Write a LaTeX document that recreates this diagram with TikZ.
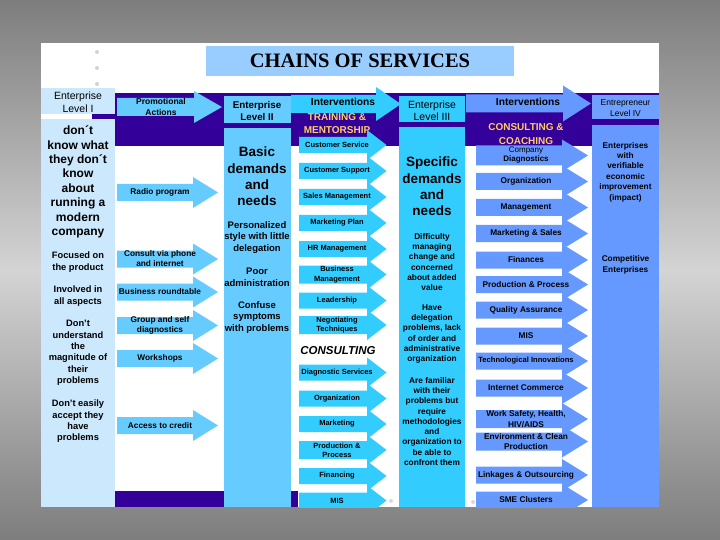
\documentclass[tikz,border=0pt]{standalone}
\usepackage{fontspec}
\setmainfont{Liberation Sans}
\newfontfamily\titlefont{Liberation Serif}
\definecolor{cPur}{HTML}{330099}
\definecolor{cLone}{HTML}{CCE8FC}
\definecolor{cSky}{HTML}{66CCFF}
\definecolor{cCyan}{HTML}{33CCFF}
\definecolor{cPeri}{HTML}{6699FF}
\definecolor{cPeriH}{HTML}{70A0FF}
\definecolor{cTitle}{HTML}{99CCFF}
\definecolor{cGold}{HTML}{FFCC66}
\definecolor{bgD}{RGB}{125,125,125}
\definecolor{bgL}{RGB}{212,212,212}
\newcommand\fs[2]{\fontsize{#1}{#2}\selectfont}
\newcommand\arw[7]{\fill[#7] (#1,#4-#5) -- (#2,#4-#5) -- (#2,#4-#6) -- (#3,#4) -- (#2,#4+#6) -- (#2,#4+#5) -- (#1,#4+#5) -- cycle;}
\newcommand\atwo[3]{\arw{117}{193}{218}{#1}{8.5}{15.5}{cSky}\node[tx,font=\bfseries\fs{8.3}{10}] (#2) at (160,#1) {#3};}
\newcommand\afour[4][8]{\arw{299}{367}{386.5}{#2}{#1}{15}{cCyan}\node[tx,font=\bfseries\fs{7.5}{9.3}] (#3) at (337,#2) {#4};}
\newcommand\asix[4][8.5]{\arw{476}{562}{588}{#2}{#1}{16}{cPeri}\node[tx,font=\bfseries\fs{8.3}{10.5}] (#3) at (526,#2) {#4};}
\begin{document}
\begin{tikzpicture}[x=1pt,y=-1pt,tx/.style={align=center,inner sep=0pt,text=black}]
\useasboundingbox (0,0) rectangle (720,540);
\shade[top color=bgD,bottom color=bgD,middle color=bgL] (0,0) rectangle (720,540);
\fill[white] (41,43) rectangle (659,507);
\foreach \yy in {52,68,84} \fill[gray!35] (97,\yy) circle[radius=2pt];
\fill[gray!30] (391,501) circle[radius=2pt];
\fill[gray!30] (473,502) circle[radius=2pt];
\node[fill=cTitle,minimum width=308pt,minimum height=30pt,inner sep=0pt,font=\titlefont\bfseries\fs{20.5}{23}] (title) at (360,61) {CHAINS OF SERVICES};
% purple bands
\fill[cPur] (92,93) rectangle (659,146);
\fill[cPur] (115,491) rectangle (298,507);
% columns
\fill[cLone] (41,88) rectangle (115,114);
\fill[cLone] (41,119) rectangle (115,507);
\fill[cSky] (224,96) rectangle (290.5,123);
\fill[cSky] (224,128) rectangle (290.5,507);
\fill[cCyan] (399,96) rectangle (465,122);
\fill[cCyan] (399,127) rectangle (465,507);
\fill[cPeriH] (592,95) rectangle (659,119);
\fill[cPeri] (592,125) rectangle (659,507);
% gold texts
\node[tx,text=cGold,font=\bfseries\fs{10}{13}] (train) at (337,123.5) {TRAINING \&\\MENTORSHIP};
\node[tx,text=cGold,font=\bfseries\fs{10}{13.5}] (consc) at (526,134) {CONSULTING \&\\COACHING};
\begin{scope}
\clip (41,43) rectangle (659,507);
% big arrows
\arw{117}{194}{222}{107}{9}{16}{cSky}
\node[tx,font=\bfseries\fs{8.5}{11}] (promo) at (161,106.5) {Promotional\\Actions};
\arw{291}{376}{401}{104}{9}{17}{cCyan}
\node[tx,font=\bfseries\fs{10.2}{12}] (intA) at (343,102) {Interventions};
\arw{466}{563}{591}{103.5}{9}{18}{cPeri}
\node[tx,font=\bfseries\fs{10.2}{12}] (intB) at (528,102) {Interventions};
% column 2 arrows
\atwo{192.5}{radio}{Radio program}
\atwo{259}{phone}{Consult via phone\\and internet}
\atwo{292}{round}{Business roundtable}
\atwo{325.5}{group}{Group and self\\diagnostics}
\atwo{358.5}{works}{Workshops}
\atwo{425.5}{credit}{Access to credit}
% column 4 arrows
\afour{145}{cserv}{Customer Service}
\afour{171}{csupp}{Customer Support}
\afour{197}{sales}{Sales Management}
\afour{223}{mplan}{Marketing Plan}
\afour{249}{hrm}{HR Management}
\afour[9]{274.5}{busm}{Business\\Management}
\afour{300.5}{lead}{Leadership}
\afour[9]{325}{nego}{Negotiating\\Techniques}
\node[tx,font=\bfseries\itshape\fs{11.5}{13}] (consult) at (338,351) {CONSULTING};
\afour{372.5}{diag}{Diagnostic Services}
\afour{398.5}{orgA}{Organization}
\afour{424}{mark}{Marketing}
\afour[9]{450}{prodA}{Production \&\\Process}
\afour{476}{fin}{Financing}
\afour{500.5}{misA}{MIS}
% column 6 arrows
\arw{476}{562}{588}{155.5}{10}{16}{cPeri}
\node[tx,font=\fs{8}{9.3}] (compd) at (526,155.4) {Company\\\bfseries Diagnostics};
\asix{181.5}{orgB}{Organization}
\asix{207.5}{mgmt}{Management}
\asix{233.5}{mks}{Marketing \& Sales}
\asix{260}{finB}{Finances}
\asix{284.5}{prodB}{Production \& Process}
\asix{310}{qa}{Quality Assurance}
\asix{336}{misB}{MIS}
\arw{476}{562}{588}{361}{8.5}{16}{cPeri}
\node[tx,font=\bfseries\fs{7.6}{9}] (tech) at (526,361) {Technological Innovations};
\asix{388}{inet}{Internet Commerce}
\asix[9]{419}{work}{Work Safety, Health,\\HIV/AIDS}
\asix[9]{441.5}{envi}{Environment \& Clean\\Production}
\asix{475}{link}{Linkages \& Outsourcing}
\asix{500}{sme}{SME Clusters}
\end{scope}
% column 1 texts
\node[tx,font=\fs{10.5}{12.5}] (lvlI) at (78,102) {Enterprise\\Level I};
\node[tx,font=\bfseries\fs{12}{14.4}] (l1a) at (78,182) {don´t\\know what\\they don´t\\know\\about\\running a\\modern\\company};
\node[tx,font=\bfseries\fs{9.3}{11.6}] (l1b) at (78,262) {Focused on\\the product};
\node[tx,font=\bfseries\fs{9.3}{11.6}] (l1c) at (78,296) {Involved in\\all aspects};
\node[tx,font=\bfseries\fs{9.3}{11.4}] (l1d) at (78,353) {Don't\\understand\\the\\magnitude of\\their\\problems};
\node[tx,font=\bfseries\fs{9.3}{11.3}] (l1e) at (78,421.5) {Don't easily\\accept they\\have\\problems};
% column 3 texts
\node[tx,font=\bfseries\fs{9.8}{12}] (lvlII) at (257,111) {Enterprise\\Level  II};
\node[tx,font=\bfseries\fs{13.5}{16.4}] (l2a) at (257,176.5) {Basic\\demands\\and\\needs};
\node[tx,font=\bfseries\fs{9.5}{11.3}] (l2b) at (257,237.5) {Personalized\\style with little\\delegation};
\node[tx,font=\bfseries\fs{9.5}{11.3}] (l2c) at (257,277.2) {Poor\\administration};
\node[tx,font=\bfseries\fs{9.5}{11.3}] (l2d) at (257,317.3) {Confuse\\symptoms\\with problems};
% column 5 texts
\node[tx,font=\fs{10.5}{12}] (lvlIII) at (432,111) {Enterprise\\Level III};
\node[tx,font=\bfseries\fs{13.5}{16.4}] (l3a) at (432,186.5) {Specific\\demands\\and\\needs};
\node[tx,font=\bfseries\fs{8.3}{10.3}] (l3b) at (432,262) {Difficulty\\managing\\change and\\concerned\\about added\\value};
\node[tx,font=\bfseries\fs{8.3}{10.3}] (l3c) at (432,334) {Have\\delegation\\problems, lack\\of order and\\administrative\\organization};
\node[tx,font=\bfseries\fs{8.3}{10.25}] (l3d) at (432,421.5) {Are familiar\\with their\\problems but\\require\\methodologies\\and\\organization to\\be able to\\confront them};
% column 7 texts
\node[tx,font=\fs{8.5}{10.6}] (lvlIV) at (625.5,108.3) {Entrepreneur\\Level IV};
\node[tx,font=\bfseries\fs{8.3}{10.4}] (l4a) at (625.5,172) {Enterprises\\with\\verifiable\\economic\\improvement\\(impact)};
\node[tx,font=\bfseries\fs{8.3}{10.4}] (l4b) at (625.5,265) {Competitive\\Enterprises};
\end{tikzpicture}
\end{document}
